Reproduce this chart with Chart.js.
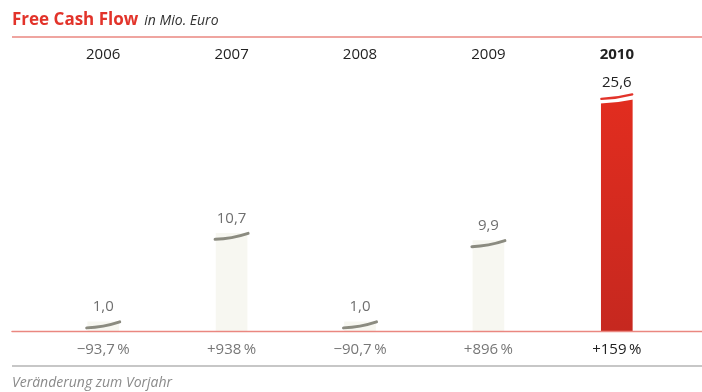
<!DOCTYPE html>
<html>
<head>
<meta charset="utf-8">
<script src="https://cdn.jsdelivr.net/npm/chart.js@4"></script>
<style>
  body { margin: 0; background: #fff; }
  #wrap { width: 702px; height: 392px; }
</style>
</head>
<body>
<div id="wrap"><canvas id="fcfChart" width="702" height="392"></canvas></div>
<script>
const years = ['2006', '2007', '2008', '2009', '2010'];
const cashFlow = [1.0, 10.7, 1.0, 9.9, 25.6];
const changeLabels = ['\u221293,7\u2009%', '+938\u2009%', '\u221290,7\u2009%', '+896\u2009%', '+159\u2009%'];
const highlight = 4;

const fontFamily = '"Open Sans", "Noto Sans", sans-serif';
const red = '#e2332a';
const redLine = '#ea8780';
const arcGray = '#8b8b80';

const fmt = v => v.toFixed(1).replace('.', ',');

// curved cap over a bar, rising towards the right
function capPath(ctx, l, r, yl, yr) {
  ctx.beginPath();
  ctx.moveTo(l, yl);
  ctx.quadraticCurveTo((l + r) / 2, yl - 0.5, r, yr);
}

const decorations = {
  id: 'decorations',
  beforeDatasetsDraw(chart) {
    const ctx = chart.ctx;
    ctx.save();
    // title
    ctx.textBaseline = 'alphabetic';
    ctx.fillStyle = red;
    ctx.font = 'bold 17px ' + fontFamily;
    ctx.fillText('Free Cash Flow', 12, 25);
    const w = ctx.measureText('Free Cash Flow').width;
    ctx.fillStyle = '#333';
    ctx.font = 'italic 14px ' + fontFamily;
    ctx.fillText('in Mio. Euro', 12 + w + 6, 25);
    // rules
    ctx.lineWidth = 1.5;
    ctx.strokeStyle = redLine;
    ctx.beginPath(); ctx.moveTo(12, 37); ctx.lineTo(702, 37); ctx.stroke();
    ctx.strokeStyle = '#b5b5b5';
    ctx.beginPath(); ctx.moveTo(12, 366); ctx.lineTo(702, 366); ctx.stroke();
    // footer
    ctx.fillStyle = '#8a8a8a';
    ctx.font = 'italic 14px ' + fontFamily;
    ctx.fillText('Ver\u00e4nderung zum Vorjahr', 12, 387);
    ctx.restore();
  },
  afterDatasetsDraw(chart) {
    const ctx = chart.ctx;
    const meta = chart.getDatasetMeta(0);
    const base = chart.chartArea.bottom;
    ctx.save();
    meta.data.forEach((bar, i) => {
      const half = bar.width / 2;
      const l = bar.x - half, r = bar.x + half;
      const top = bar.y;
      if (i === highlight) {
        // round off the bar top, leave a white gap, then a thin red arc
        ctx.fillStyle = '#fff';
        ctx.beginPath();
        ctx.moveTo(l - 1, top - 8);
        ctx.lineTo(l - 1, top + 6);
        ctx.quadraticCurveTo(bar.x, top + 5.5, r + 1, top + 2);
        ctx.lineTo(r + 1, top - 8);
        ctx.closePath();
        ctx.fill();
        ctx.strokeStyle = red;
        ctx.lineWidth = 2.2;
        capPath(ctx, l, r, top + 1.5, top - 3);
        ctx.stroke();
      } else {
        ctx.strokeStyle = arcGray;
        ctx.lineWidth = 3;
        ctx.lineCap = 'round';
        capPath(ctx, l - 1, r + 1, top + 6, top);
        ctx.stroke();
      }
      // value label
      ctx.textAlign = 'center';
      ctx.textBaseline = 'middle';
      ctx.font = '15px ' + fontFamily;
      ctx.fillStyle = i === highlight ? '#222' : '#6f6f6f';
      ctx.fillText(fmt(cashFlow[i]), bar.x, top - 15);
      // year
      ctx.font = (i === highlight ? 'bold ' : '') + '15px ' + fontFamily;
      ctx.fillStyle = '#222';
      ctx.fillText(years[i], bar.x, 55);
      // change vs previous year
      ctx.font = '15px ' + fontFamily;
      ctx.fillStyle = i === highlight ? '#222' : '#777';
      ctx.fillText(changeLabels[i], bar.x, 350);
    });
    // base line
    ctx.lineWidth = 1.5;
    ctx.strokeStyle = redLine;
    ctx.beginPath(); ctx.moveTo(12, base + 0.5); ctx.lineTo(702, base + 0.5); ctx.stroke();
    ctx.restore();
  }
};

const ctx = document.getElementById('fcfChart').getContext('2d');
const grad = ctx.createLinearGradient(0, 95, 0, 331);
grad.addColorStop(0, '#e22d1f');
grad.addColorStop(1, '#c6281f');

new Chart(ctx, {
  type: 'bar',
  data: {
    labels: years,
    datasets: [{
      data: cashFlow,
      backgroundColor: cashFlow.map((v, i) => i === highlight ? grad : '#f7f7f1'),
      borderWidth: 0,
      barThickness: 31
    }]
  },
  options: {
    responsive: false,
    animation: false,
    layout: { padding: { left: 39, right: 21, top: 39, bottom: 61 } },
    plugins: { legend: { display: false }, tooltip: { enabled: false } },
    scales: {
      x: { display: false },
      y: { display: false, min: 0, max: 32 }
    }
  },
  plugins: [decorations]
});
</script>
</body>
</html>
